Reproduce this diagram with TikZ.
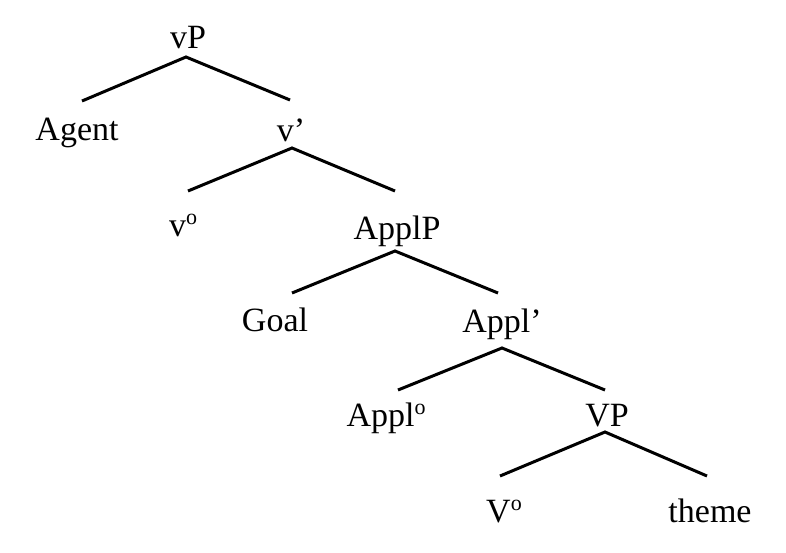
\documentclass[tikz,border=0pt]{standalone}
\usepackage{fontspec}
\setmainfont{Liberation Serif}
\newcommand{\supo}{{\fontsize{22}{22}\selectfont\raisebox{12pt}{o}}}
\begin{document}
\begin{tikzpicture}[x=1pt,y=-1pt,
  lbl/.style={anchor=base,inner sep=0pt,font=\fontsize{34}{40}\selectfont},
  branch/.style={line width=3pt,line join=miter,line cap=butt}]
\useasboundingbox (0,0) rectangle (786,552);
% labels
\node[lbl] (vP) at (188,48) {vP};
\node[lbl] (agent) at (77,140) {Agent};
\node[lbl] (vbar) at (291,141) {v’};
\node[lbl] (vo) at (183,236) {v\supo};
\node[lbl] (applP) at (397,239) {ApplP};
\node[lbl] (goal) at (275,331) {Goal};
\node[lbl] (applbar) at (502,332) {Appl’};
\node[lbl] (applo) at (386,426) {Appl\supo};
\node[lbl] (VP) at (607,426) {VP};
\node[lbl] (Vo) at (504,522) {V\supo};
\node[lbl] (theme) at (710,522) {theme};
% branch points
\coordinate (a1) at (186,57);  \coordinate (l1) at (82,101);  \coordinate (r1) at (290,100);
\coordinate (a2) at (292,148); \coordinate (l2) at (188,191); \coordinate (r2) at (395,191);
\coordinate (a3) at (395,251); \coordinate (l3) at (292,293); \coordinate (r3) at (498,293);
\coordinate (a4) at (502,348); \coordinate (l4) at (398,390); \coordinate (r4) at (605,390);
\coordinate (a5) at (605,432); \coordinate (l5) at (500,476); \coordinate (r5) at (707,476);
\draw[branch] (l1) -- (a1) -- (r1);
\draw[branch] (l2) -- (a2) -- (r2);
\draw[branch] (l3) -- (a3) -- (r3);
\draw[branch] (l4) -- (a4) -- (r4);
\draw[branch] (l5) -- (a5) -- (r5);
\end{tikzpicture}
\end{document}
